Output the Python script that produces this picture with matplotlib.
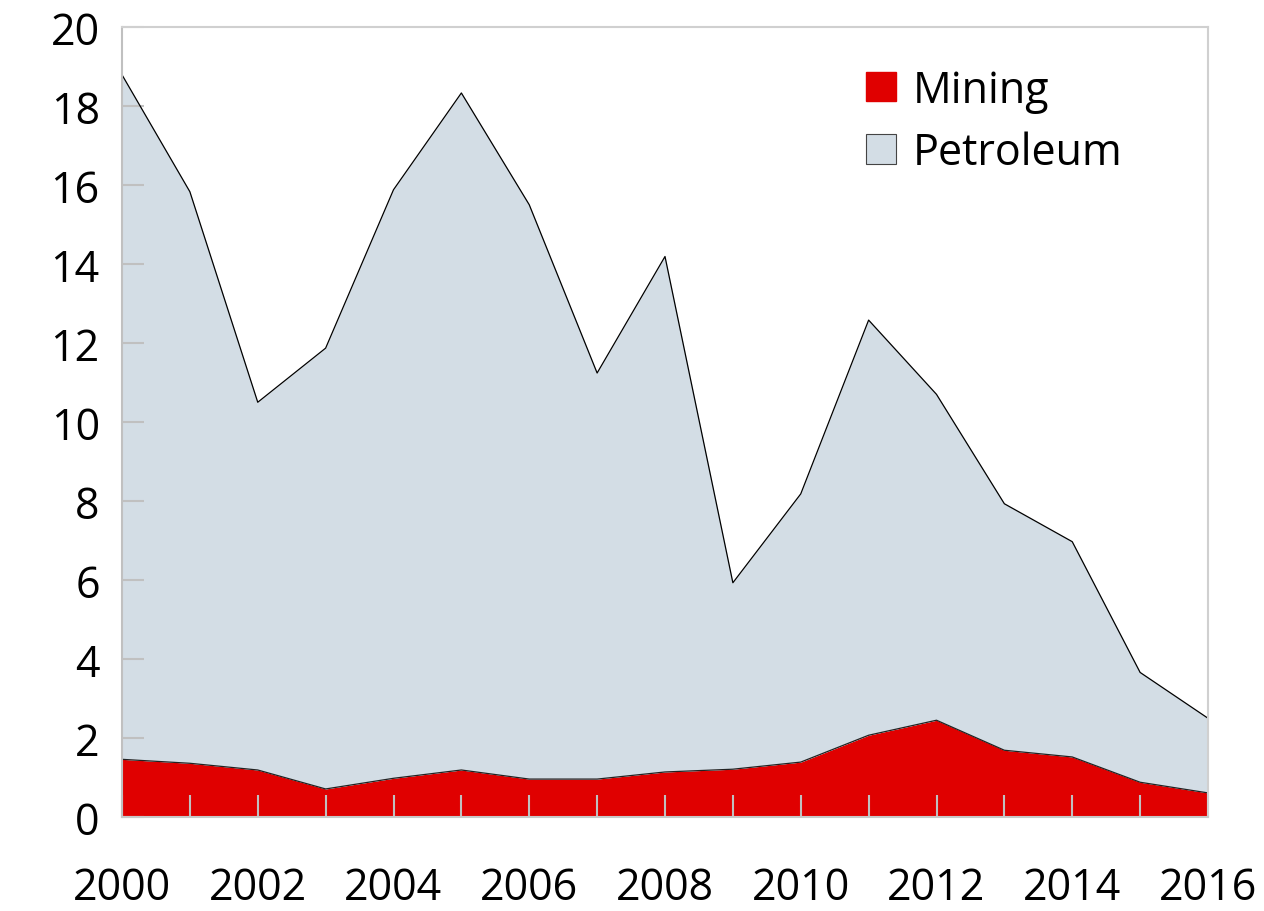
import numpy as np
import matplotlib.pyplot as plt
from matplotlib.patches import Patch

plt.rcParams['font.family'] = ['Open Sans', 'DejaVu Sans']

years = list(range(2000, 2017))
mining = [1.46, 1.36, 1.19, 0.71, 0.98, 1.19, 0.96, 0.96, 1.14, 1.21,
          1.39, 2.07, 2.45, 1.69, 1.52, 0.88, 0.61]
total = [18.79, 15.83, 10.5, 11.87, 15.88, 18.33, 15.5, 11.24, 14.19, 5.93,
         8.18, 12.58, 10.7, 7.93, 6.97, 3.66, 2.5]
petroleum = [t - m for t, m in zip(total, mining)]

red = '#e00000'
grey = '#d3dde5'

fig = plt.figure(figsize=(12.64, 9.12), dpi=100)
ax = fig.add_axes([122 / 1264, 1 - 818 / 912, (1208 - 122) / 1264, (818 - 28) / 912])

x = np.array(years)
m = np.array(mining)
p = np.array(petroleum)

ax.fill_between(x, 0, m, color=red, lw=0)
ax.fill_between(x, m, m + p, color=grey, lw=0)
ax.plot(x, m, color='#222222', lw=0.9)
ax.plot(x, m + p, color='black', lw=0.9)
ax.plot([x[-1], x[-1]], [m[-1], m[-1] + p[-1]], color='black', lw=0.9)

ax.set_xlim(2000, 2016)
ax.set_ylim(0, 20)
ax.set_yticks(range(0, 21, 2))
ax.set_xticks(years)
ax.set_xticklabels([str(y) if y % 2 == 0 else '' for y in years])

for s in ax.spines.values():
    s.set_color('#d0d0d0')
    s.set_linewidth(1.5)
ax.spines['left'].set_color('#c0c0c0')
ax.spines['bottom'].set_color('#c8c8c8')

ax.tick_params(axis='both', direction='in', color='#c0c0c0', width=1.5,
               length=16, labelsize=31)
ax.tick_params(axis='x', pad=35)
ax.tick_params(axis='y', pad=16)

handles = [Patch(facecolor=red, edgecolor=red, label='Mining'),
           Patch(facecolor=grey, edgecolor='#444444', lw=0.8, label='Petroleum')]
ax.legend(handles=handles, loc='upper right', bbox_to_anchor=(0.957, 0.997),
          frameon=False, fontsize=31, handlelength=0.68, handleheight=0.68,
          handletextpad=0.4, labelspacing=0.42)

fig.savefig('out.png', dpi=100)
